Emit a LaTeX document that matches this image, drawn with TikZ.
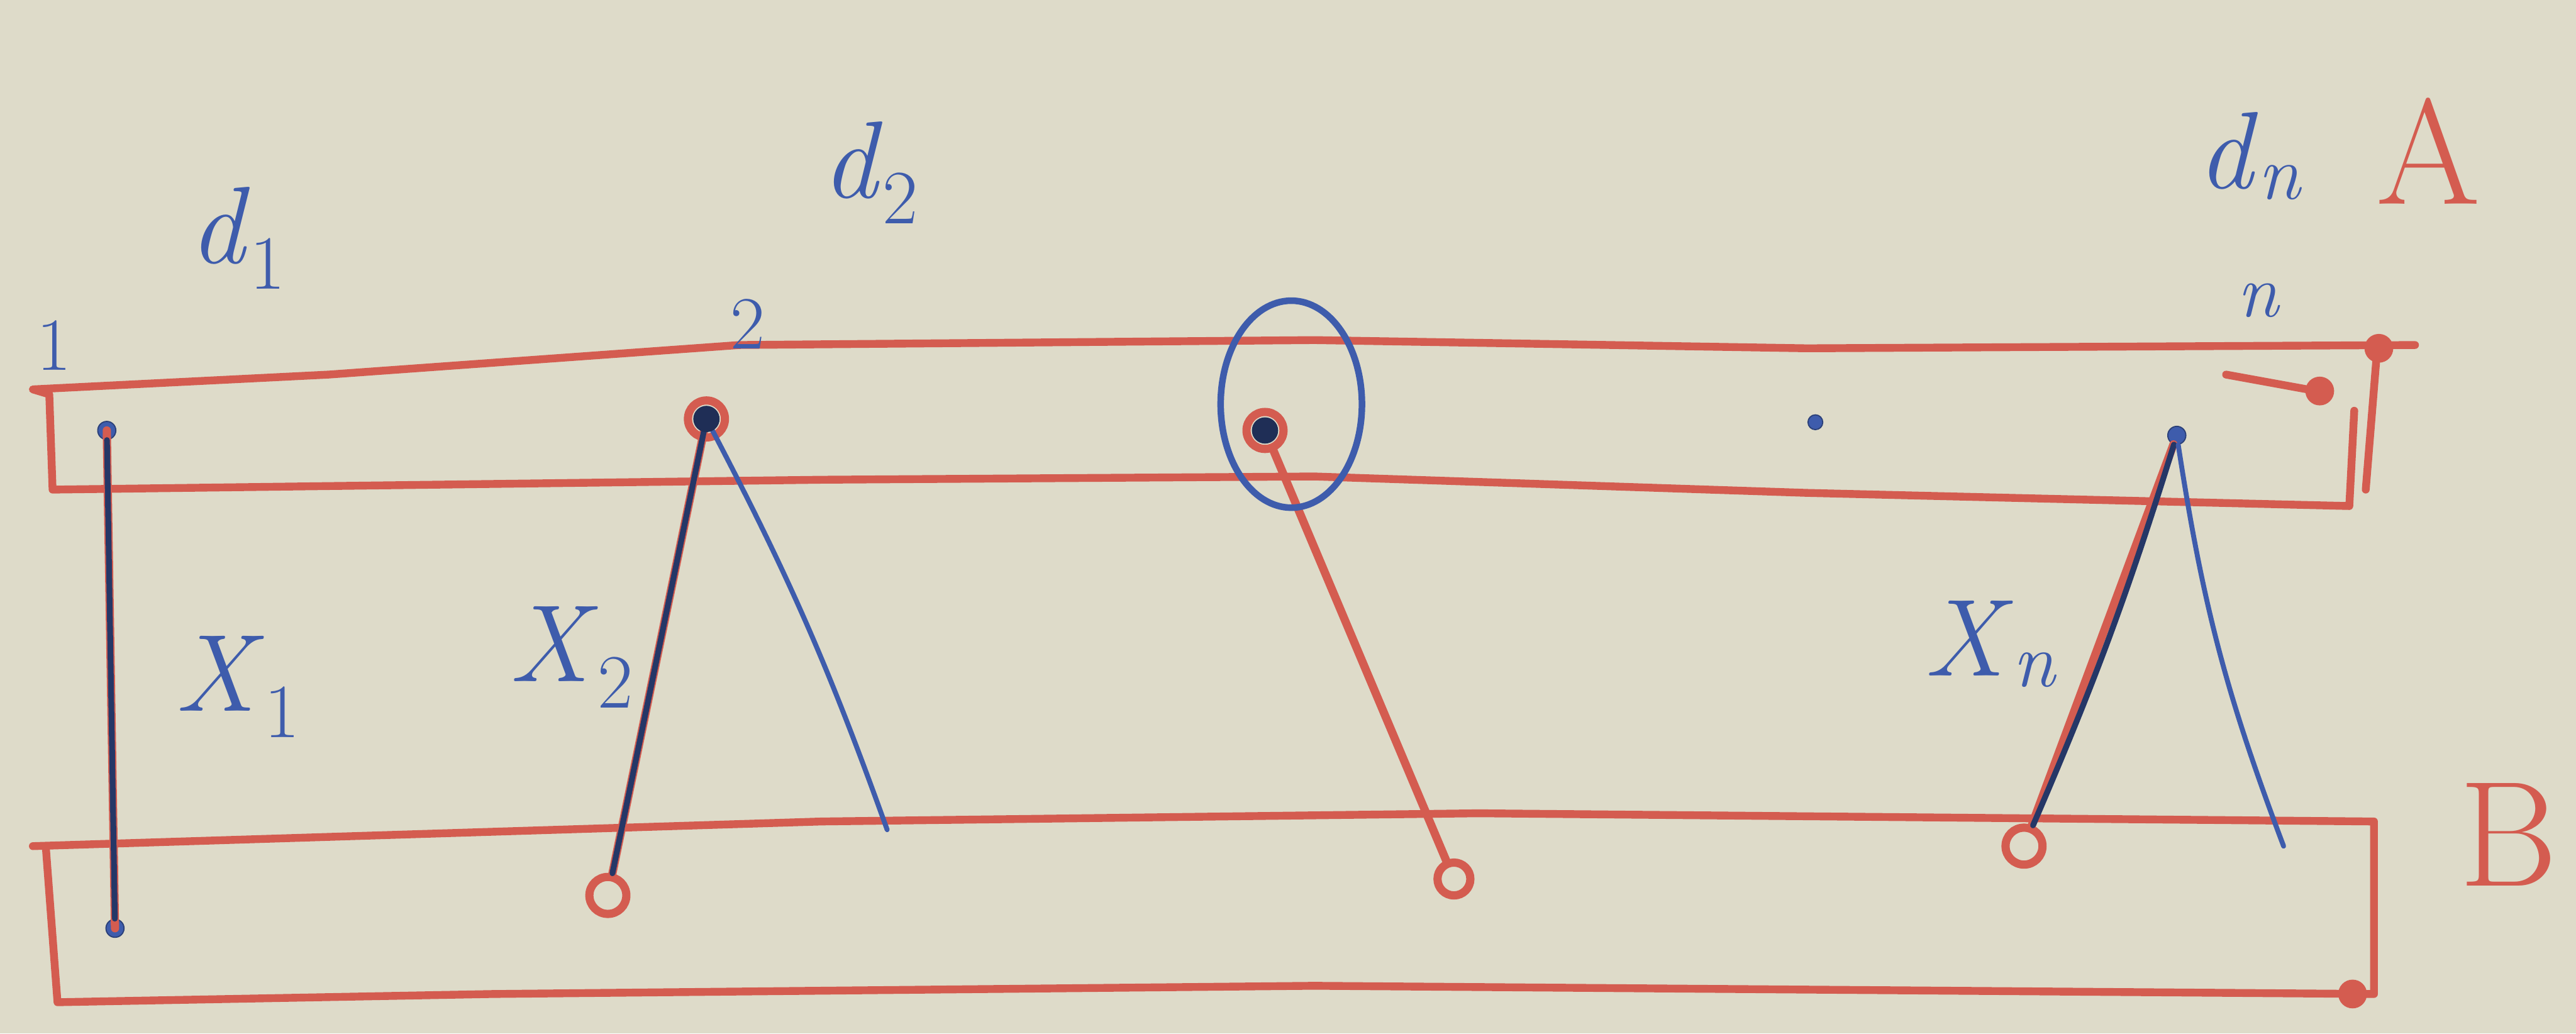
\documentclass[tikz,border=0pt]{standalone}
\usepackage{tikz}
\definecolor{paper}{RGB}{222,219,201}
\definecolor{pred}{RGB}{212,92,80}
\definecolor{pblue}{RGB}{62,92,172}
\newcommand{\lbl}[2]{\textit{#1}\textsubscript{#2}}
\tikzset{
  strip/.style={pred, line width=0.95mm, line join=round, line cap=round},
  redline/.style={pred, line width=1.0mm, line cap=round},
  blueline/.style={pblue, line width=0.6mm, line cap=round},
  dualline/.style={pblue!60!black, line width=0.7mm, line cap=round},
  bdot/.style={circle, fill=pblue, draw=pblue!70!black, inner sep=0pt, minimum size=2.2mm},
  rring/.style={circle, draw=pred, line width=1.0mm, fill=paper, inner sep=0pt, minimum size=4.5mm},
  rdot/.style={circle, fill=pred, inner sep=0pt, minimum size=3.5mm},
  blab/.style={pblue, font=\fontsize{38}{44}\selectfont},
  slab/.style={pblue, font=\fontsize{26}{30}\selectfont},
  rlab/.style={pred, font=\fontsize{52}{58}\selectfont}
}
\begin{document}
\begin{tikzpicture}[x=0.2mm, y=-0.2mm]
\fill[paper] (0,0) rectangle (1568,629);
\useasboundingbox (0,0) rectangle (1568,629);
% strip A
\draw[strip] (1470,210) -- (1100,212) -- (800,207) -- (450,210) -- (200,228) -- (20,237)
  -- (30,240) -- (32,298) -- (500,292) -- (800,290) -- (1100,300) -- (1430,308) -- (1433,250);
\draw[strip] (1447,212) -- (1440,298);
\draw[strip] (1355,228) -- (1410,238);
\node[rdot] (ra) at (1412,238) {};
\node[rdot] (rb) at (1448,212) {};
% strip B
\draw[strip] (20,515) -- (500,500) -- (900,495) -- (1445,500) -- (1445,605)
  -- (800,600) -- (300,605) -- (35,610) -- (28,517);
\node[rdot] (rc) at (1432,605) {};
% points
\node[bdot] (p1) at (65,262) {};
\node[bdot] (q1) at (70,565) {};
\node[rring] (p2) at (430,255) {};
\node[rring] (q2) at (370,545) {};
\coordinate (r2) at (540,505);
\node[rring] (p3) at (770,262) {};
\node[rring, minimum size=4mm] (q3) at (885,535) {};
\node[bdot, minimum size=1.8mm] (dt) at (1105,257) {};
\node[bdot] (pn) at (1325,265) {};
\node[rring] (qn) at (1232,515) {};
\coordinate (rn) at (1390,515);
% connectors
\draw[redline] (p1.center) -- (q1.center);
\draw[dualline] (p1) -- (q1);
\draw[redline] (p2.center) -- (q2);
\draw[dualline] (p2.center) -- (q2);
\draw[blueline] (p2.center) to[bend left=4] (r2);
\draw[redline] (p3) -- (q3);
\draw[redline] (pn) -- (qn);
\draw[dualline] (pn) to[bend left=3] (qn);
\draw[blueline] (pn) to[bend right=6] (rn);
\fill[pblue!50!black] (p2.center) circle (1.6mm);
\fill[pblue!50!black] (p3.center) circle (1.6mm);
\draw[pblue, line width=0.8mm] (786,246) ellipse (43 and 63);
% labels
\node[blab] (ld1) at (145,145) {\lbl{d}{1}};
\node[blab] (ld2) at (530,105) {\lbl{d}{2}};
\node[blab] (ldn) at (1370,95) {\lbl{d}{\textit{n}}};
\node[rlab] (lA) at (1478,92) {A};
\node[rlab] (lB) at (1527,508) {B};
\node[slab] (l1) at (33,210) {1};
\node[slab] (l2) at (455,197) {2};
\node[slab] (ln) at (1375,183) {\textit{n}};
\node[blab] (lx1) at (145,418) {\lbl{X}{1}};
\node[blab] (lx2) at (348,400) {\lbl{X}{2}};
\node[blab] (lxn) at (1212,392) {\lbl{X}{\textit{n}}};
\end{tikzpicture}
\end{document}
